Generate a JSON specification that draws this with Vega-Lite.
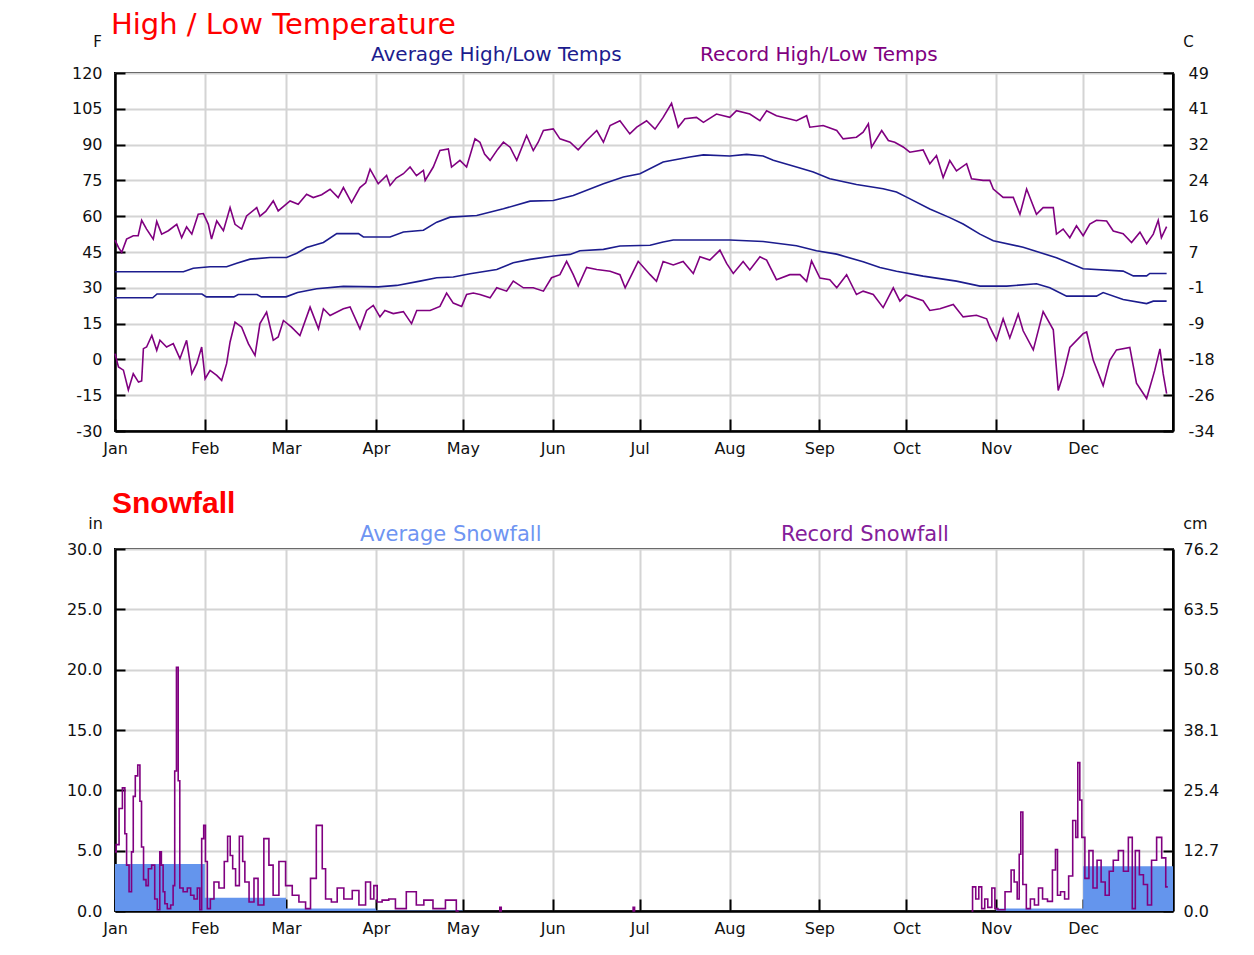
{
  "$schema": "https://vega.github.io/schema/vega-lite/v6.json",
  "padding": {"left": 65, "top": 10, "right": 20, "bottom": 5},
  "background": "white",
  "spacing": 31,
  "resolve": {"scale": {"color": "independent"}, "legend": {"color": "independent"}},
  "datasets": {
    "rh": [
      {"d":0,"v":50},{"d":1.2,"v":46.9},{"d":2.3,"v":44.8},{"d":4,"v":50.4},{"d":6.3,"v":51.8},{"d":8,"v":51.8},{"d":9.2,"v":58.3},{"d":10.9,"v":54.6},{"d":13.2,"v":50.4},{"d":14.4,"v":57.8},{"d":16.1,"v":52.5},{"d":18.4,"v":53.9},{"d":21.3,"v":56.6},{"d":23,"v":51},{"d":24.7,"v":55.5},{"d":26.5,"v":52.5},{"d":28.7,"v":60.8},{"d":30.5,"v":61.1},{"d":32.2,"v":56.6},{"d":33.3,"v":50.4},{"d":35.1,"v":58},{"d":37.4,"v":53.9},{"d":39.7,"v":63.6},{"d":41.4,"v":56.6},{"d":43.7,"v":54.6},{"d":45.4,"v":60.1},{"d":48.9,"v":63.6},{"d":50,"v":60},{"d":52,"v":62},{"d":54.6,"v":66.4},{"d":56.3,"v":62.2},{"d":60.4,"v":66.4},{"d":63.2,"v":65},{"d":66.1,"v":69.2},{"d":68.4,"v":67.8},{"d":71.3,"v":69},{"d":74.2,"v":71.3},{"d":77,"v":67.8},{"d":78.8,"v":72},{"d":81.6,"v":65.7},{"d":84.5,"v":72},{"d":86.5,"v":74},{"d":88,"v":79.7},{"d":90.8,"v":73.6},{"d":93.7,"v":77.1},{"d":94.9,"v":72.9},{"d":97,"v":76},{"d":99.5,"v":77.8},{"d":101.8,"v":80.6},{"d":104,"v":77},{"d":106.4,"v":79.2},{"d":107,"v":75},{"d":109.8,"v":80.6},{"d":112.1,"v":87.5},{"d":115,"v":88.2},{"d":116.1,"v":80.6},{"d":119,"v":83.4},{"d":121.3,"v":80.6},{"d":124.2,"v":92.4},{"d":125.9,"v":91},{"d":127.5,"v":86},{"d":129.4,"v":83.4},{"d":132,"v":88},{"d":134,"v":91},{"d":136.3,"v":88.9},{"d":138.6,"v":83.4},{"d":142,"v":93.8},{"d":144.3,"v":87.5},{"d":146,"v":91},{"d":147.8,"v":95.9},{"d":151.2,"v":96.6},{"d":153.5,"v":92.4},{"d":157,"v":91},{"d":159.8,"v":87.8},{"d":162.7,"v":91.7},{"d":166.2,"v":95.9},{"d":168.5,"v":91},{"d":170.8,"v":98},{"d":174.2,"v":100},{"d":177.6,"v":94.5},{"d":180,"v":97.3},{"d":183.4,"v":100},{"d":186.3,"v":96.5},{"d":189.1,"v":101.4},{"d":192,"v":107.3},{"d":194.3,"v":97.3},{"d":196.6,"v":100.8},{"d":200.6,"v":101.4},{"d":203,"v":99.3},{"d":207.5,"v":102.8},{"d":212.1,"v":101.4},{"d":214.4,"v":104.2},{"d":219,"v":102.8},{"d":222.5,"v":100},{"d":224.8,"v":104.2},{"d":228.2,"v":102.1},{"d":232.8,"v":100.7},{"d":235.1,"v":100},{"d":238.6,"v":102.1},{"d":239.7,"v":97.3},{"d":244.3,"v":98},{"d":249,"v":95.9},{"d":251.2,"v":92.4},{"d":255.8,"v":93.1},{"d":258.1,"v":95.2},{"d":259.9,"v":98.7},{"d":261,"v":88.9},{"d":264.5,"v":95.9},{"d":266.8,"v":91.7},{"d":269,"v":91},{"d":271.9,"v":89},{"d":274.2,"v":86.8},{"d":278.8,"v":87.8},{"d":281.1,"v":82},{"d":283.4,"v":85.4},{"d":285.7,"v":76.2},{"d":288,"v":83.3},{"d":290.3,"v":79},{"d":293.8,"v":82},{"d":295.5,"v":75.7},{"d":299.5,"v":75},{"d":301.8,"v":75},{"d":303,"v":71.4},{"d":306.4,"v":67.9},{"d":309.9,"v":67.9},{"d":312.2,"v":60.8},{"d":314.5,"v":71.4},{"d":317.9,"v":60.8},{"d":320.2,"v":63.6},{"d":323.7,"v":63.6},{"d":324.8,"v":52.5},{"d":327.1,"v":54.6},{"d":329.4,"v":51},{"d":331.7,"v":56},{"d":334,"v":51.8},{"d":336.3,"v":56.7},{"d":338.6,"v":58.3},{"d":342.1,"v":58},{"d":344.4,"v":53.8},{"d":347.8,"v":52.7},{"d":350.7,"v":49},{"d":353.6,"v":53.3},{"d":355.9,"v":48.5},{"d":358.2,"v":52.5},{"d":359.9,"v":58.3},{"d":361,"v":51},{"d":362.8,"v":55.6}
    ],
    "rl": [
      {"d":0,"v":2.4},{"d":1.2,"v":-3.2},{"d":2.9,"v":-4.5},{"d":4.6,"v":-12.8},{"d":6.3,"v":-6},{"d":8.1,"v":-9.5},{"d":9.2,"v":-9},{"d":9.8,"v":4.5},{"d":10.9,"v":5.2},{"d":12.7,"v":10},{"d":14.4,"v":3.8},{"d":15.5,"v":8},{"d":17.8,"v":5.2},{"d":20.1,"v":6.6},{"d":22.4,"v":0.3},{"d":24.7,"v":8},{"d":26.5,"v":-6},{"d":28.2,"v":-1.8},{"d":29.9,"v":5.2},{"d":31.1,"v":-8.1},{"d":32.8,"v":-4.6},{"d":35.1,"v":-6.7},{"d":36.8,"v":-8.8},{"d":38.5,"v":-1.8},{"d":39.7,"v":7.3},{"d":41.4,"v":15.6},{"d":43.7,"v":13.5},{"d":46,"v":6.6},{"d":48.3,"v":1.7},{"d":50,"v":15},{"d":52.3,"v":19.8},{"d":54.6,"v":8},{"d":56.3,"v":9.4},{"d":58.1,"v":16.3},{"d":60.9,"v":13.5},{"d":63.8,"v":10},{"d":67.3,"v":21.9},{"d":70.2,"v":12.8},{"d":71.9,"v":21.2},{"d":74.2,"v":18.4},{"d":78.8,"v":21.2},{"d":81.1,"v":22},{"d":84.5,"v":12.8},{"d":86.8,"v":20.5},{"d":89.1,"v":22.6},{"d":91.4,"v":17.8},{"d":93.1,"v":20.5},{"d":96,"v":19.2},{"d":99.5,"v":20},{"d":102.3,"v":15},{"d":104.1,"v":20.5},{"d":108.7,"v":20.5},{"d":112.1,"v":22.2},{"d":114.4,"v":27.8},{"d":116.7,"v":23.6},{"d":119.6,"v":22.2},{"d":121.3,"v":27.2},{"d":123.6,"v":27.8},{"d":125.9,"v":27.2},{"d":129.4,"v":25.8},{"d":131.7,"v":30},{"d":135.1,"v":28.6},{"d":137.4,"v":32.8},{"d":140.9,"v":30},{"d":144.3,"v":30},{"d":147.8,"v":28.6},{"d":150.6,"v":34.2},{"d":153.5,"v":35.5},{"d":155.8,"v":41.1},{"d":158.1,"v":35.5},{"d":159.8,"v":30.7},{"d":162.7,"v":38.5},{"d":166.2,"v":37.7},{"d":170.8,"v":36.9},{"d":174.2,"v":35.5},{"d":176,"v":30},{"d":178.8,"v":36.9},{"d":180.5,"v":41.1},{"d":184.6,"v":35.5},{"d":186.8,"v":32.7},{"d":189.1,"v":41},{"d":192.6,"v":39.6},{"d":196,"v":41},{"d":199.5,"v":36},{"d":201.8,"v":43},{"d":205.2,"v":41.6},{"d":208.7,"v":45.8},{"d":211,"v":40.2},{"d":213.3,"v":36},{"d":216.7,"v":41},{"d":219,"v":37.5},{"d":222.5,"v":43},{"d":224.8,"v":41.6},{"d":228.2,"v":33.4},{"d":232.8,"v":35.5},{"d":236.3,"v":35.5},{"d":238.6,"v":32.7},{"d":240.3,"v":41.3},{"d":243.2,"v":34.1},{"d":246.6,"v":33.4},{"d":249,"v":30},{"d":252.4,"v":35.5},{"d":255.8,"v":27.2},{"d":258.1,"v":28.6},{"d":261.6,"v":27.2},{"d":265,"v":21.7},{"d":268.5,"v":30},{"d":270.8,"v":24.4},{"d":272.9,"v":27},{"d":278.8,"v":24.6},{"d":281.1,"v":20.5},{"d":284.6,"v":21.2},{"d":289.2,"v":23},{"d":292.6,"v":17.8},{"d":297.2,"v":18.5},{"d":300.7,"v":17},{"d":301.8,"v":13.6},{"d":304.1,"v":8},{"d":306.4,"v":17},{"d":308.7,"v":9},{"d":311.6,"v":19},{"d":313.3,"v":12},{"d":316.8,"v":4},{"d":320.2,"v":20},{"d":323.7,"v":12.4},{"d":325.4,"v":-13},{"d":327.1,"v":-6.6},{"d":329.4,"v":5},{"d":334,"v":10.8},{"d":335.2,"v":11.5},{"d":337.5,"v":-0.4},{"d":340.9,"v":-11},{"d":343.2,"v":-0.4},{"d":345.5,"v":4},{"d":350.1,"v":5},{"d":352.4,"v":-10},{"d":355.9,"v":-16.4},{"d":358.7,"v":-4.6},{"d":360.5,"v":4.4},{"d":361.6,"v":-6},{"d":362.8,"v":-14.3}
    ],
    "ah": [
      {"d":0,"v":36.7},{"d":23.6,"v":36.7},{"d":27,"v":38.2},{"d":32.8,"v":38.8},{"d":38.5,"v":38.8},{"d":42,"v":40.3},{"d":46.6,"v":42},{"d":53.5,"v":42.7},{"d":59.2,"v":42.7},{"d":62.7,"v":44.5},{"d":66.1,"v":46.9},{"d":71.9,"v":49},{"d":76.5,"v":52.7},{"d":84,"v":52.7},{"d":85.7,"v":51.3},{"d":94.9,"v":51.3},{"d":99.5,"v":53.4},{"d":106.4,"v":54.1},{"d":111,"v":57.5},{"d":115.6,"v":59.6},{"d":124.8,"v":60.3},{"d":134,"v":63.1},{"d":143.2,"v":66.3},{"d":151.2,"v":66.6},{"d":158.1,"v":68.7},{"d":168.5,"v":73.6},{"d":175.4,"v":76.4},{"d":181.1,"v":77.8},{"d":189.1,"v":82.7},{"d":198.3,"v":84.8},{"d":203,"v":85.7},{"d":212.1,"v":85.2},{"d":217.9,"v":85.9},{"d":223.6,"v":85.2},{"d":227.1,"v":83.4},{"d":235.1,"v":80.6},{"d":240.9,"v":78.5},{"d":246.6,"v":75.7},{"d":255.8,"v":73.3},{"d":265,"v":71.5},{"d":269.6,"v":70.1},{"d":273.1,"v":68},{"d":281.1,"v":63},{"d":288,"v":59.4},{"d":292.6,"v":56.7},{"d":298.4,"v":52.5},{"d":303,"v":49.7},{"d":313.3,"v":47},{"d":324.8,"v":42.6},{"d":334,"v":38},{"d":347.8,"v":37},{"d":351.3,"v":35},{"d":355.9,"v":35},{"d":357,"v":36},{"d":362.8,"v":36}
    ],
    "al": [
      {"d":0,"v":25.8},{"d":13,"v":25.8},{"d":14.5,"v":27.4},{"d":30,"v":27.4},{"d":31.5,"v":26.2},{"d":41,"v":26.2},{"d":42.5,"v":27.2},{"d":49,"v":27.2},{"d":50.5,"v":26.2},{"d":59,"v":26.2},{"d":63,"v":28},{"d":69.6,"v":29.6},{"d":78.8,"v":30.6},{"d":90.8,"v":30.4},{"d":97.2,"v":31},{"d":105.2,"v":32.8},{"d":111,"v":34.2},{"d":116.7,"v":34.5},{"d":122.5,"v":35.9},{"d":131.7,"v":37.7},{"d":137.4,"v":40.5},{"d":143.2,"v":41.9},{"d":151.2,"v":43.3},{"d":157,"v":44},{"d":160.4,"v":45.5},{"d":168.5,"v":46.1},{"d":174.2,"v":47.5},{"d":184.6,"v":47.8},{"d":189.1,"v":49.2},{"d":192.6,"v":50},{"d":212.1,"v":50},{"d":223.6,"v":49.4},{"d":235.1,"v":47.6},{"d":242,"v":45.5},{"d":249,"v":44.1},{"d":258.1,"v":40.9},{"d":263.9,"v":38.5},{"d":269.6,"v":36.9},{"d":278.8,"v":34.9},{"d":290.3,"v":32.8},{"d":298.4,"v":30.7},{"d":307.6,"v":30.7},{"d":317.9,"v":31.7},{"d":322.5,"v":30},{"d":328.3,"v":26.5},{"d":338.6,"v":26.5},{"d":340.9,"v":28},{"d":347.8,"v":25.1},{"d":355.9,"v":23.4},{"d":358.2,"v":24.4},{"d":362.8,"v":24.4}
    ],
    "sa": [
      {"d":0,"v":3.9},{"d":31,"v":1.1},{"d":59,"v":0.2},{"d":90,"v":0.04},{"d":120,"v":0},{"d":304,"v":0.2},{"d":334,"v":3.7},{"d":365,"v":3.7}
    ],
    "rs": [
      {"d":0,"v":4.9},{"d":0.8,"v":5.5},{"d":2,"v":8.5},{"d":3.1,"v":10.2},{"d":3.7,"v":6.4},{"d":4.3,"v":3.8},{"d":5.4,"v":1.6},{"d":6,"v":4.9},{"d":6.6,"v":9.5},{"d":7.4,"v":11.2},{"d":8.3,"v":12.1},{"d":8.9,"v":9.1},{"d":9.4,"v":5.3},{"d":10.3,"v":2.6},{"d":11.1,"v":2.1},{"d":11.9,"v":3.5},{"d":13.4,"v":3.8},{"d":14,"v":1},{"d":15.2,"v":0.1},{"d":15.7,"v":4.9},{"d":16.3,"v":3.8},{"d":16.9,"v":1.6},{"d":17.5,"v":0.6},{"d":18.6,"v":0.2},{"d":19.8,"v":0.5},{"d":20.3,"v":2.1},{"d":20.9,"v":11.6},{"d":21.5,"v":20.2},{"d":22.1,"v":10.8},{"d":22.6,"v":1.9},{"d":24.4,"v":1.6},{"d":25.5,"v":1.9},{"d":26.7,"v":1.3},{"d":27.8,"v":1},{"d":29,"v":1.9},{"d":29.5,"v":0.1},{"d":30.3,"v":6},{"d":30.9,"v":7.1},{"d":31.5,"v":4.1},{"d":32.2,"v":0.2},{"d":33.6,"v":1},{"d":34.7,"v":2.4},{"d":37,"v":1.9},{"d":38.4,"v":4.1},{"d":39.3,"v":6.2},{"d":40.2,"v":4.6},{"d":41,"v":3.5},{"d":42.2,"v":2.1},{"d":43.6,"v":6.2},{"d":44.5,"v":4.1},{"d":45.1,"v":2.4},{"d":47.4,"v":0.75},{"d":48.5,"v":2.7},{"d":50.2,"v":0.5},{"d":52.5,"v":6},{"d":53.7,"v":3.8},{"d":55.4,"v":1.3},{"d":57.7,"v":4.1},{"d":60,"v":2.1},{"d":62.3,"v":1.3},{"d":64.6,"v":0.75},{"d":66.9,"v":0.2},{"d":68,"v":2.7},{"d":70.9,"v":7.1},{"d":72.1,"v":3.5},{"d":73.2,"v":1},{"d":76.1,"v":0.75},{"d":77.2,"v":1.9},{"d":80.7,"v":1},{"d":83,"v":1.7},{"d":85.3,"v":0.5},{"d":87.6,"v":2.4},{"d":88.7,"v":1},{"d":89.9,"v":2.1},{"d":91,"v":0.75},{"d":93.3,"v":0.9},{"d":95.6,"v":1},{"d":97.9,"v":0.2},{"d":103.1,"v":1.6},{"d":104.8,"v":0.5},{"d":108.3,"v":0.9},{"d":111.1,"v":0.2},{"d":116.9,"v":0.9},{"d":118.6,"v":0},{"d":119,"v":null},{"d":132.5,"v":0},{"d":133,"v":0.3},{"d":133.5,"v":0},{"d":134,"v":null},{"d":178.5,"v":0},{"d":179,"v":0.3},{"d":179.5,"v":0},{"d":180,"v":null},{"d":295.5,"v":0},{"d":296.2,"v":2},{"d":297.7,"v":1},{"d":298.3,"v":2},{"d":299.7,"v":0.2},{"d":300.4,"v":1},{"d":301.8,"v":0.3},{"d":303.2,"v":1.9},{"d":303.9,"v":0.2},{"d":305.3,"v":0.1},{"d":308.8,"v":1.6},{"d":309.5,"v":3.4},{"d":310.9,"v":2.4},{"d":311.6,"v":1},{"d":312.3,"v":4.7},{"d":312.7,"v":8.2},{"d":313.7,"v":2.2},{"d":315.1,"v":0.2},{"d":316.5,"v":1},{"d":317.9,"v":0.5},{"d":319.3,"v":1.9},{"d":320.7,"v":1},{"d":322.7,"v":0.8},{"d":324.1,"v":3.4},{"d":324.8,"v":5.1},{"d":325.5,"v":1.3},{"d":326.9,"v":1.6},{"d":328.3,"v":1},{"d":329.7,"v":2.9},{"d":331.1,"v":7.5},{"d":331.8,"v":6.1},{"d":332.5,"v":12.3},{"d":333.2,"v":9.2},{"d":333.9,"v":6.1},{"d":335.3,"v":2.7},{"d":336.7,"v":5},{"d":338.1,"v":1.9},{"d":339.5,"v":4.2},{"d":340.9,"v":2.4},{"d":342.3,"v":1.3},{"d":343.7,"v":3.3},{"d":345.1,"v":4.2},{"d":347.2,"v":5},{"d":348.6,"v":3.3},{"d":350.6,"v":6.1},{"d":351.3,"v":0.2},{"d":352.7,"v":5},{"d":354.1,"v":3},{"d":355.5,"v":2.2},{"d":356.9,"v":0.5},{"d":358.3,"v":4.2},{"d":360.4,"v":6.1},{"d":361.8,"v":4.4},{"d":363.2,"v":2}
    ]
  },
  "vconcat": [
    {
      "width": 1058,
      "height": 358,
      "title": {"text": "High / Low Temperature", "anchor": "start", "frame": "group", "color": "#ff0000", "font": "DejaVu Sans", "fontSize": 29, "fontWeight": "normal", "offset": -6, "dx": -4},
      "encoding": {
        "x": {"field": "d", "type": "quantitative", "scale": {"domain": [0, 365], "nice": false, "zero": false},
          "axis": {"title": null, "values": [0,31,59,90,120,151,181,212,243,273,304,334], "labelExpr": "['Jan','Feb','Mar','Apr','May','Jun','Jul','Aug','Sep','Oct','Nov','Dec'][indexof([0,31,59,90,120,151,181,212,243,273,304,334], datum.value)]", "labelFlush": false, "labelOverlap": false, "grid": true, "tickSize": -12, "labelPadding": 21}}
      },
      "layer": [
        {"data": {"name": "rh"}, "mark": {"type": "line", "strokeWidth": 1.6},
          "encoding": {
            "y": {"field": "v", "type": "quantitative", "scale": {"domain": [-30, 120], "nice": false, "zero": false},
              "axis": {"title": "F", "titleAngle": 0, "titleX": -18, "titleY": -32, "titleAlign": "center", "titleBaseline": "middle", "values": [-30,-15,0,15,30,45,60,75,90,105,120], "labelExpr": "toString(datum.value)", "grid": true, "tickSize": -10, "labelPadding": 23, "labelOverlap": false}},
            "color": {"datum": "Record High/Low Temps", "scale": {"domain": ["Average High/Low Temps", "Record High/Low Temps"], "range": ["#1c1c8e", "#800080"]},
              "legend": {"title": null, "orient": "top", "direction": "horizontal", "symbolSize": 0, "symbolStrokeWidth": 0, "symbolOpacity": 0, "labelFont": "DejaVu Sans", "labelFontSize": 20, "labelOffset": 0, "columnPadding": 58, "offset": 8, "labelLimit": 400, "labelColor": {"expr": "datum.value == 'Average High/Low Temps' ? '#1c1c8e' : '#800080'"}}}
          }},
        {"data": {"name": "rl"}, "mark": {"type": "line", "strokeWidth": 1.6},
          "encoding": {
            "y": {"field": "v", "type": "quantitative", "scale": {"domain": [-30, 120], "nice": false, "zero": false}, "axis": null},
            "color": {"datum": "Record High/Low Temps"}
          }},
        {"data": {"name": "ah"}, "mark": {"type": "line", "strokeWidth": 1.6},
          "encoding": {
            "y": {"field": "v", "type": "quantitative", "scale": {"domain": [-30, 120], "nice": false, "zero": false}, "axis": null},
            "color": {"datum": "Average High/Low Temps"}
          }},
        {"data": {"name": "al"}, "mark": {"type": "line", "strokeWidth": 1.6},
          "encoding": {
            "y": {"field": "v", "type": "quantitative", "scale": {"domain": [-30, 120], "nice": false, "zero": false},
              "axis": {"orient": "right", "title": "C", "titleAngle": 0, "titleX": 15, "titleY": -32, "titleAlign": "center", "titleBaseline": "middle", "values": [-30,-15,0,15,30,45,60,75,90,105,120], "grid": false, "tickSize": -10, "labelPadding": 25, "labelOverlap": false, "labelExpr": "toString(round((datum.value-32)*5/9))"}},
            "color": {"datum": "Average High/Low Temps"}
          }}
      ],
      "resolve": {"scale": {"y": "independent"}}
    },
    {
      "width": 1058,
      "height": 362,
      "title": {"text": "Snowfall", "anchor": "start", "frame": "group", "color": "#ff0000", "font": "Liberation Sans", "fontSize": 30, "fontWeight": "bold", "offset": -4, "dx": -3},
      "encoding": {
        "x": {"field": "d", "type": "quantitative", "scale": {"domain": [0, 365], "nice": false, "zero": false},
          "axis": {"title": null, "values": [0,31,59,90,120,151,181,212,243,273,304,334], "labelExpr": "['Jan','Feb','Mar','Apr','May','Jun','Jul','Aug','Sep','Oct','Nov','Dec'][indexof([0,31,59,90,120,151,181,212,243,273,304,334], datum.value)]", "labelFlush": false, "labelOverlap": false, "grid": true, "tickSize": -12, "labelPadding": 21}}
      },
      "layer": [
        {"data": {"name": "sa"}, "mark": {"type": "area", "interpolate": "step-after", "opacity": 1},
          "encoding": {
            "y": {"field": "v", "type": "quantitative", "scale": {"domain": [0, 30], "nice": false, "zero": true},
              "axis": {"title": "in", "titleAngle": 0, "titleX": -20, "titleY": -26, "titleAlign": "center", "titleBaseline": "middle", "titleFontSize": 16, "values": [0,5,10,15,20,25,30], "format": ".1f", "grid": true, "tickSize": -10, "labelPadding": 23, "labelOverlap": false}},
            "color": {"datum": "Average Snowfall", "scale": {"domain": ["Average Snowfall", "Record Snowfall"], "range": ["#6495ed", "#800080"]},
              "legend": {"title": null, "orient": "top", "direction": "horizontal", "symbolSize": 0, "symbolStrokeWidth": 0, "symbolOpacity": 0, "labelFont": "DejaVu Sans", "labelFontSize": 21, "labelOffset": 0, "columnPadding": 218, "offset": 4, "labelLimit": 400, "labelColor": {"expr": "datum.value == 'Average Snowfall' ? '#6f95f2' : '#84209a'"}}}
          }},
        {"data": {"name": "rs"}, "mark": {"type": "line", "interpolate": "step", "strokeWidth": 1.6},
          "encoding": {
            "y": {"field": "v", "type": "quantitative", "scale": {"domain": [0, 30], "nice": false, "zero": true},
              "axis": {"orient": "right", "title": "cm", "titleAngle": 0, "titleX": 22, "titleY": -26, "titleAlign": "center", "titleBaseline": "middle", "titleFontSize": 16, "values": [0,5,10,15,20,25,30], "grid": false, "tickSize": -10, "labelPadding": 20, "labelOverlap": false, "labelExpr": "format(datum.value*2.54, '.1f')"}},
            "color": {"datum": "Record Snowfall"}
          }}
      ],
      "resolve": {"scale": {"y": "independent"}}
    }
  ],
  "config": {
    "view": {"stroke": "#000000", "strokeWidth": 2},
    "axis": {"domainColor": "#000000", "domainWidth": 2.5, "gridColor": "#d4d4d4", "gridWidth": 2, "tickColor": "#000000", "tickWidth": 2, "labelFont": "DejaVu Sans", "labelFontSize": 16, "labelColor": "#111111", "titleFont": "DejaVu Sans", "titleColor": "#111111", "titleFontWeight": "normal", "titleFontSize": 15},
    "legend": {"layout": {"top": {"anchor": "middle"}}}
  }
}
